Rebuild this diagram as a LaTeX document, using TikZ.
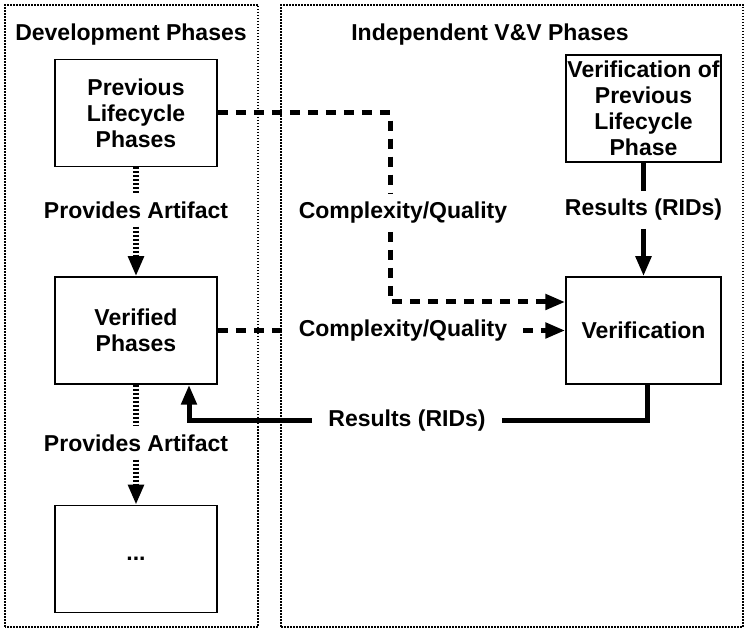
\documentclass[tikz,border=0pt]{standalone}
\usepackage{fontspec}
\setmainfont{Liberation Sans}
\usetikzlibrary{arrows.meta}

\begin{document}
\begin{tikzpicture}[x=1pt, y=1pt, >={Triangle[length=20pt,width=15pt]},
                    font=\fontsize{23}{26}\selectfont\bfseries,
                    phase node/.style={rectangle,draw,line width=1.5pt,minimum width=162pt,minimum height=107pt,align=center,inner sep=0pt},
                    vv node/.style={phase node,minimum width=155pt},
                    tag node/.style={inner xsep=16pt,inner ysep=8pt},
                    frame/.style={line width=1.2pt,dash pattern=on 1.5pt off 1.5pt},
                    artifact/.style={line width=5.5pt,dash pattern=on 2pt off 2pt},
                    quality/.style={line width=5pt,dash pattern=on 10pt off 8pt},
                    results/.style={line width=5pt}]
  \useasboundingbox (0,0) rectangle (748,632);

  % frames
  \draw[frame] (5,5) rectangle (258,627);
  \draw[frame] (281,5) rectangle (743,627);
  \node (dev) at (131,597) {Development Phases};
  \node (ivv) at (490,597) {Independent V\&V Phases};

  % development side
  \node[phase node] (prev) at (136,519) {Previous\\Lifecycle\\Phases};
  \node[phase node] (verified) at (136,301.5) {Verified\\Phases};
  \node[phase node] (next) at (136,73) {...};
  \node[tag node] (art1) at (136,422) {Provides Artifact};
  \node[tag node] (art2) at (136,189) {Provides Artifact};

  % V&V side
  \node[vv node] (vprev) at (643.5,523.5) {Verification of\\Previous\\Lifecycle\\Phase};
  \node[vv node] (vv) at (643.5,301.5) {Verification};
  \node[tag node] (res1) at (643.5,422) {Results (RIDs)};
  \node[tag node] (res2) at (407,211) {Results (RIDs)};
  \node[tag node] (qual1) at (403,419) {Complexity/Quality};
  \node[tag node] (qual2) at (403,301.5) {Complexity/Quality};

  \coordinate (qbend) at (390,519);
  \coordinate (qknee) at (390,330);
  \coordinate (rknee) at (189,211);

  \draw[artifact] (prev) -- (art1);
  \draw[artifact,->] (art1) -- (verified);
  \draw[artifact] (verified) -- (art2);
  \draw[artifact,->] (art2) -- (next);

  \draw[quality] (prev.east) -- (qbend) -- (qbend |- qual1.north);
  \draw[quality,->] (qual1.south -| qknee) -- (qknee) -- (qknee -| vv.west);
  \draw[quality] (verified.east) -- (qual2.west);
  \draw[quality,->] (qual2.east) -- (vv.west);

  \draw[results] (vprev) -- (res1);
  \draw[results,->] (res1) -- (vv);
  \draw[results] ([xshift=4pt]vv.south) |- (res2.east);
  \draw[results,->] (res2.west) -- (rknee) -- (rknee |- verified.south);
\end{tikzpicture}
\end{document}
